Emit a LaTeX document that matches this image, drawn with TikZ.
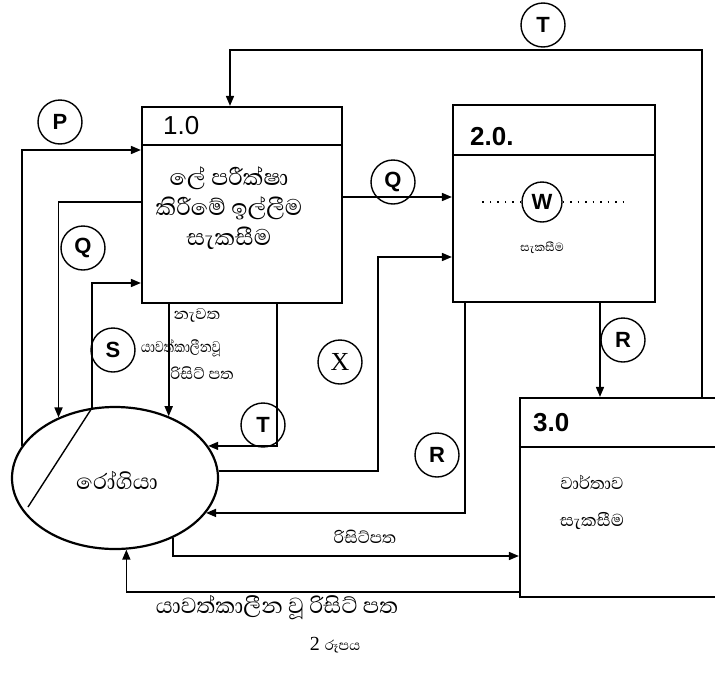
\documentclass[tikz,border=0pt]{standalone}
\usepackage{fontspec}
\usepackage{graphicx}
\setmainfont{Liberation Serif}
\setsansfont{Liberation Sans}
\newfontfamily\sinfont[Script=Sinhala]{Abhaya Libre}
\usetikzlibrary{shapes.geometric,arrows.meta}

\begin{document}
\begin{tikzpicture}[x=1pt,y=-1pt,
    flow/.style={line width=1.6pt,-{Triangle[length=10pt,width=8pt]}},
    proc/.style={draw,line width=2.2pt,rectangle,inner sep=0pt},
    tag/.style={draw,circle,line width=1.4pt,minimum size=44pt,inner sep=0pt,
      font=\sffamily\bfseries\fontsize{22}{22}\selectfont},
    sinhala/.style={font=\sinfont\fontsize{22}{37}\selectfont,align=center,inner sep=0pt},
    small/.style={font=\sinfont\fontsize{20}{25}\selectfont,inner sep=0pt},
    num/.style={font=\sffamily\fontsize{26}{26}\selectfont,anchor=west,inner sep=0pt}]
  \useasboundingbox (0,0) rectangle (715,691);

  % processes and the patient
  \node[proc,minimum width=200pt,minimum height=196pt] (p1) at (242,205) {};
  \node[proc,minimum width=202pt,minimum height=197pt] (p2) at (554,203.5) {};
  \node[proc,minimum width=225pt,minimum height=199pt] (p3) at (632.5,497.5) {};
  \node[draw,ellipse,line width=2.2pt,minimum width=206pt,minimum height=142pt,inner sep=0pt] (pt) at (115,478) {};
  \draw[line width=2pt] (p1.west |- 0,145) -- (p1.east |- 0,145);
  \draw[line width=2pt] (p2.west |- 0,155) -- (p2.east |- 0,155);
  \draw[line width=2pt] (p3.west |- 0,447) -- (p3.east |- 0,447);
  \draw[line width=1.4pt] (pt.108.4) -- (28,507);

  \node[num] (n1) at (163,126) {1.0};
  \node[num,font=\sffamily\bfseries\fontsize{26}{26}\selectfont] (n2) at (470,137) {2.0.};
  \node[num,font=\sffamily\bfseries\fontsize{26}{26}\selectfont] (n3) at (533,423) {3.0};
  \node[sinhala,font=\sinfont\fontsize{29}{30}\selectfont] (t1) at (229,208) {ලේ පරීක්ෂා\\කිරීමේ ඉල්ලීම\\සැකසීම};
  \node[sinhala,font=\sinfont\fontsize{15}{20}\selectfont] (t2) at (542,248) {සැකසීම};
  \node[sinhala] (t3) at (592,502) {වාර්තාව\\සැකසීම};
  \node[sinhala,font=\sinfont\fontsize{28}{30}\selectfont] (t4) at (117,480) {රෝගියා};

  % box 2 blank
  \node[tag,minimum size=40pt] (w) at (542,202) {W};
  \draw[line width=1.5pt,dash pattern=on 1.5pt off 6pt] (w.west) -- ++(-39,0);
  \draw[line width=1.5pt,dash pattern=on 1.5pt off 6pt] (w.east) -- ++(65,0);

  % data flows
  \coordinate (tbend) at (230,50);
  \coordinate (xbend) at (378,257);
  \draw[flow] (p3.north -| 702,0) |- (tbend) -- (p1.north -| tbend);
  \draw[flow] (pt.161) |- (p1.west |- 0,150);
  \draw[flow] (p1.west |- 0,202) -| (pt.133);
  \draw[flow] (pt.108.4) |- (p1.west |- 0,283);
  \draw[flow] (p1.south -| pt.49) -- (pt.49);
  \draw[flow] (p1.south -| 277,0) |- (pt.19.9);
  \draw[flow] (p1.east |- 0,197) -- (p2.west |- 0,197);
  \draw[flow] (pt.4.5) -| (xbend) -- (p2.west |- xbend);
  \draw[flow] (p2.south -| 465,0) |- (pt.-21.3);
  \draw[flow] (p2.south -| 600,0) -- (p3.north -| 600,0);
  \draw[flow] (pt.-46) |- (p3.west |- 0,556);
  \draw[flow] (p3.west |- 0,592) -| (pt.-81.1);

  % flow labels
  \node[tag] (lt1) at (543,25) {T};
  \node[tag] (lp) at (60,122) {P};
  \node[tag] (lq1) at (83,248) {Q};
  \node[tag] (ls) at (113,350) {S};
  \node[tag] (lt2) at (263,425) {T};
  \node[tag] (lq2) at (393,182) {Q};
  \node[tag,font=\rmfamily\fontsize{26}{26}\selectfont] (lx) at (340,362) {X};
  \node[tag] (lr1) at (437,455) {R};
  \node[tag] (lr2) at (623,340) {R};
  \node[small] (f1) at (197,315) {නැවත};
  \node[small] (f2) at (181,348) {\scalebox{0.78}[1]{යාවත්කාලීනවූ}};
  \node[small] (f3) at (202,373) {රිසිට් පත};
  \node[small,font=\sinfont\fontsize{21}{22}\selectfont] (f4) at (365,537) {රිසිට්පත};
  \node[small,font=\sinfont\fontsize{28}{30}\selectfont] (f5) at (277,608) {යාවත්කාලීන වූ රිසිට් පත};
  \node[inner sep=0pt] (cap) at (335,645) {\fontsize{20}{20}\selectfont 2 {\sinfont\fontsize{18}{20}\selectfont රූපය}};
\end{tikzpicture}
\end{document}
